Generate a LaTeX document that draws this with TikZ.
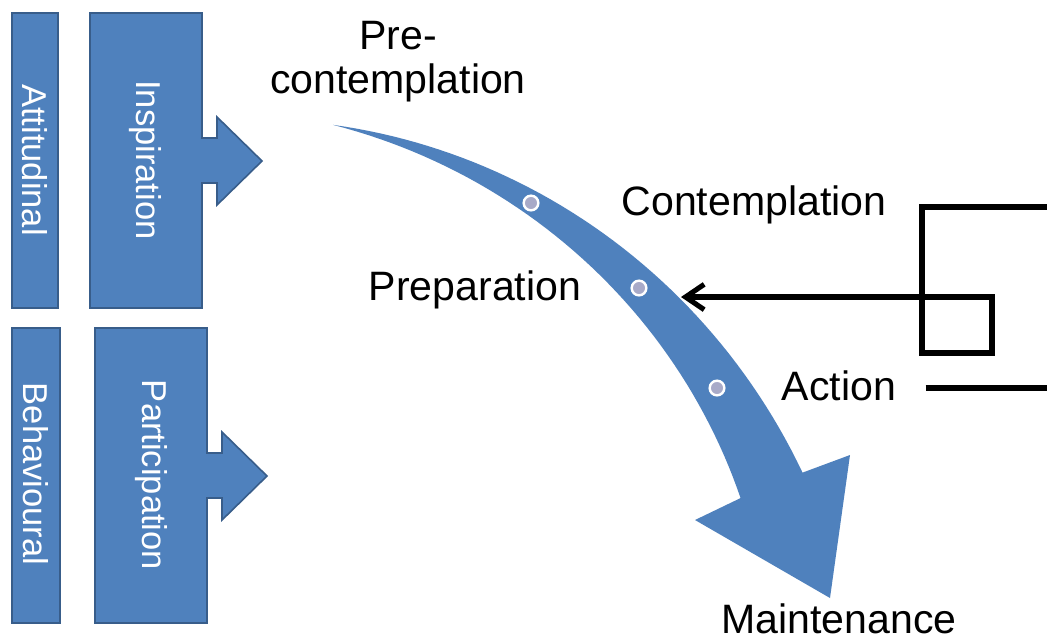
\documentclass[tikz,border=0pt]{standalone}
\usepackage{fontspec}
\setmainfont{Liberation Sans}
\usetikzlibrary{arrows.meta}
\definecolor{stageblue}{RGB}{79,129,189}
\definecolor{stageline}{RGB}{56,93,138}
\definecolor{dotgrey}{RGB}{168,170,200}

\begin{document}
\begin{tikzpicture}[x=0.75pt,y=-0.75pt,
  block/.style={fill=stageblue,draw=stageline,line width=1.2pt},
  sidetext/.style={rotate=-90,text=white,font=\fontsize{25.9}{30}\selectfont,inner sep=0pt},
  stagetext/.style={font=\fontsize{30.8}{32.3}\selectfont,inner sep=0pt,anchor=base,align=center},
  stagedot/.style={circle,fill=dotgrey,draw=white,line width=1.8pt,minimum size=11pt,inner sep=0pt},
  wire/.style={line width=3.8pt}]
\useasboundingbox (0,0) rectangle (1047,640);
\fill[white] (0,0) rectangle (1047,640);

\draw[block] (12,13) rectangle (58,308);
\draw[block] (90,13) -- (202,13) -- (202,138) -- (217,138) -- (217,117) -- (262,161) -- (217,205) -- (217,183) -- (202,183) -- (202,308) -- (90,308) -- cycle;
\draw[block] (12,328) rectangle (60,623);
\draw[block] (95,328) -- (207,328) -- (207,453) -- (222,453) -- (222,432) -- (267,476) -- (222,520) -- (222,498) -- (207,498) -- (207,623) -- (95,623) -- cycle;
\node[sidetext] (att) at (35,160) {Attitudinal};
\node[sidetext] (insp) at (145,160) {Inspiration};
\node[sidetext] (beh) at (36,474) {Behavioural};
\node[sidetext] (part) at (151,475) {Participation};

\fill[stageblue] plot[domain=-78.84:-22.32,samples=50,variable=\t]
    ({217+(599.5+33.5*(\t+78.84)/56.52)*cos(\t)},{713+(599.5+33.5*(\t+78.84)/56.52)*sin(\t)})
  -- (850,455) -- (830,598) -- (695,520)
  -- plot[domain=-22.32:-78.84,samples=50,variable=\t]
    ({217+(599.5-33.5*(\t+78.84)/56.52)*cos(\t)},{713+(599.5-33.5*(\t+78.84)/56.52)*sin(\t)}) -- cycle;
\node[stagedot] (d1) at (531,203) {};
\node[stagedot] (d2) at (639,288) {};
\node[stagedot] (d3) at (717,388) {};

\node[stagetext] (precont) at (398,93) {Pre-\\contemplation};
\node[stagetext] (cont) at (754,215) {Contemplation};
\node[stagetext] (prep) at (475,300) {Preparation};
\node[stagetext] (act) at (839,400) {Action};
\node[stagetext] (maint) at (839,633) {Maintenance};

\coordinate (loopin) at (1047,207);
\coordinate (prephit) at (681,297);
\draw[wire,-{Straight Barb[length=14pt,width=19pt]}] (loopin) -- (922,207) -- (922,353) -- (992,353) -- (992,297) -- (prephit);
\coordinate (actin) at ([xshift=22pt]act.east);
\coordinate (actend) at (1047,388);
\draw[wire] (actin |- actend) -- (actend);
\end{tikzpicture}
\end{document}
